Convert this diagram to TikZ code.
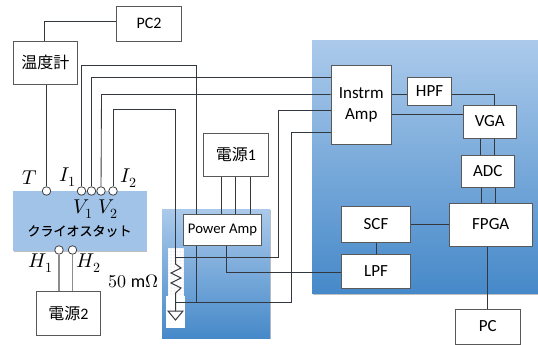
\documentclass[tikz,border=0pt]{standalone}
\usepackage{fontspec}
\setmainfont{Carlito}
\newfontfamily\cjk{Noto Sans CJK JP}
\newfontfamily\cjkb[FakeBold=0.2]{Noto Sans CJK JP}
\usepackage{unicode-math}
\usetikzlibrary{shadows,calc,patterns}
\pgfdeclarelayer{back}\pgfdeclarelayer{mid}
\pgfsetlayers{back,mid,main}
\definecolor{wire}{HTML}{33383F}
\definecolor{blueT}{HTML}{ABCAEB}
\definecolor{blueB}{HTML}{4689C9}
\tikzset{
 box/.style={draw=black!65,fill=white,line width=.9pt,align=center,inner sep=0pt,font=\fontsize{17}{20}\selectfont,
   drop shadow={shadow xshift=.5pt,shadow yshift=-.8pt,opacity=.35,fill=black}},
 pin/.style={circle,draw=black!75,fill=white,line width=.8pt,minimum size=8.5pt,inner sep=0pt},
 wireline/.style={draw=wire,line width=.85pt},
 graywire/.style={draw=black!45,line width=1.5pt},
 panel/.style={draw=none,top color=blueT,bottom color=blueB,inner sep=0pt},
 lbl/.style={inner sep=0pt,font=\fontsize{20}{22}\selectfont},
}
\newcommand{\bx}[6]{\node[box,minimum width=#3 pt-#2 pt,minimum height=#5 pt-#4 pt] (#1) at ({(#2+#3)/2},{(#4+#5)/2}) {#6};}
\begin{document}
\begin{tikzpicture}[x=1pt,y=-1pt]
\useasboundingbox (0,0) rectangle (538,345);
\begin{pgfonlayer}{back}
\fill[black!25] (313,42) rectangle (538,294.5);
\node[panel,minimum width=226pt,minimum height=252pt] (rpanel) at (425,167) {};
\fill[black!25] (163,210) rectangle (270.5,339);
\node[panel,minimum width=108pt,minimum height=129pt] (lpanel) at (216,273.5) {};
\node[fill=white,inner sep=0pt,minimum width=16.5pt,minimum height=48pt] (w1) at (176,272) {};
\node[pattern=dots,pattern color=black!25,inner sep=0pt,minimum width=16.5pt,minimum height=48pt] (w1b) at (176,272) {};
\node[fill=white,inner sep=0pt,minimum width=19pt,minimum height=32pt] (w2) at (175.5,312) {};
\fill[black!25] (14,192) rectangle (147,252);
\node[fill=blueT!90!blueB,inner sep=0pt,minimum width=134pt,minimum height=60pt] (cryo) at (80,221) {};
\end{pgfonlayer}

\node[lbl,font=\cjkb\fontsize{13}{16}\selectfont] (cryotxt) at (79.5,231) {クライオスタット};

\bx{pctwo}{116.5}{181.5}{6.5}{41}{\fontsize{16}{19}\selectfont PC2}
\bx{thermo}{13}{77.5}{41}{84}{\fontsize{16}{19}\selectfont\cjk 温度計}
\bx{ptwo}{36.5}{100.5}{291}{335}{\fontsize{16}{19}\selectfont\cjk 電源\rmfamily 2}
\bx{pone}{203.5}{268.5}{133}{176}{\fontsize{16}{19}\selectfont\cjk 電源\rmfamily 1}
\bx{pamp}{183.5}{261.5}{214}{245}{\fontsize{14.7}{17}\selectfont Power Amp}
\bx{inst}{331}{391.5}{65}{144}{Instrm\\[1pt]Amp}
\bx{hpf}{407.5}{451.5}{77}{105}{HPF}
\bx{vga}{463.5}{516}{105}{138}{VGA}
\bx{adc}{461.5}{514}{155}{187}{ADC}
\bx{fpga}{449.5}{532}{203}{246}{FPGA}
\bx{scf}{341.5}{410.5}{206}{242}{SCF}
\bx{lpf}{341.5}{410.5}{254}{288}{LPF}
\bx{pc}{455.5}{520}{309}{344}{PC}

\node[pin] (pT) at (46.5,191) {};
\node[pin] (pI1) at (81.5,191) {};
\node[pin] (pV1) at (91.5,191) {};
\node[pin] (pV2) at (101,191) {};
\node[pin] (pI2) at (113,191) {};
\node[pin] (pH1) at (59,250) {};
\node[pin] (pH2) at (72.5,250) {};

\node[lbl] (lT) at (30,178) {$T$};
\node[lbl] (lI1) at (68,177) {$I_1$};
\node[lbl] (lI2) at (129,178) {$I_2$};
\node[lbl] (lV1) at (83,209) {$V_1$};
\node[lbl] (lV2) at (108,209) {$V_2$};
\node[lbl] (lH1) at (41,263) {$H_1$};
\node[lbl] (lH2) at (89,263) {$H_2$};
\node[lbl,font=\fontsize{18}{20}\selectfont] (lR) at (133.5,281) {$50\ \mathrm{m}\Omega$};

\coordinate (rtop) at (175.5,257.5);
\coordinate (rbot) at (175.5,296);
\coordinate (gnd) at (175.5,311);
\begin{pgfonlayer}{mid}
\draw[wireline] (pctwo.west |- 0,21) -- (44.5,21) -- (44.5,41);
\draw[wireline] (thermo.south -| pT) -- (pT);
\draw[wireline] (pI1) -- (81.5,65.5) -- (196.5,65.5) -- (196.5,214);
\draw[wireline] (pV1) -- (91.5,77.5) -- (inst.west |- 0,77.5);
\draw[wireline] (pV2) -- (101.5,94.5) -- (inst.west |- 0,94.5);
\draw[wireline] (pI2) -- (113,109.5) -- (175.5,109.5) -- (rtop);
\draw[wireline] (inst.west |- 0,110.5) -- (278.5,110.5) -- (278.5,257.5) -- (rtop);
\draw[wireline] (inst.west |- 0,132.5) -- (291.5,132.5) -- (291.5,302.5) -- (175.5,302.5);
\draw[wireline] (196.5,245) -- (196.5,302.5);
\draw[wireline] (226.5,245) -- (226.5,272.5) -- (lpf.west |- 0,272.5);
\foreach \x in {221.5,235.5,250.5} \draw[wireline] (\x,176) -- (\x,214);
\draw[wireline] (inst.east |- 0,94.5) -- (hpf.west |- 0,94.5);
\draw[wireline] (hpf.east |- 0,94.5) -- (494.5,94.5) -- (494.5,105);
\draw[wireline] (inst.east |- 0,114.5) -- (vga.west |- 0,114.5);
\foreach \x in {480.5,494.5} \draw[wireline] (\x,138) -- (\x,155);
\foreach \x in {481.5,495.5} \draw[wireline] (\x,187) -- (\x,203);
\draw[wireline] (scf.east) -- (fpga.west |- scf.east);
\draw[wireline] (scf) -- (lpf);
\draw[wireline] (487.5,246) -- (pc.north -| 487.5,0);
\draw[graywire] (pH1) -- (pH1 |- ptwo.north);
\draw[graywire] (pH2) -- (pH2 |- ptwo.north);
\draw[wireline,line width=1pt,line join=miter] (rtop) -- (175.5,264) -- (181,268) -- (171,273) -- (181,278) -- (171,283) -- (181,288) -- (175.5,293) -- (rbot) -- (gnd);
\draw[wireline,line width=1pt] (168,311) -- (183,311) -- (175.5,320) -- cycle;
\end{pgfonlayer}
\end{tikzpicture}
\end{document}
